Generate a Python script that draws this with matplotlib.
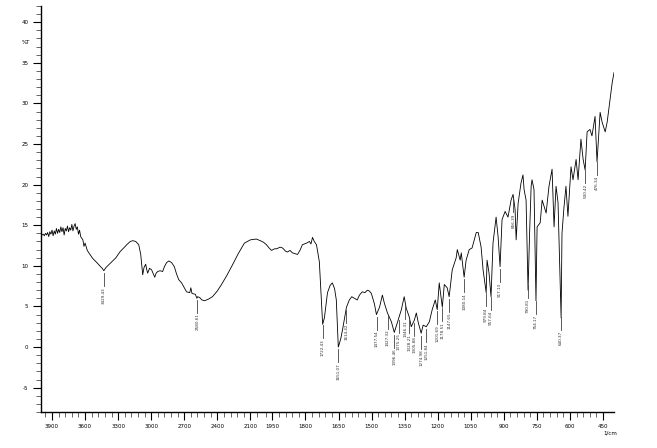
import numpy as np
import matplotlib
matplotlib.use('Agg')
import matplotlib.pyplot as plt
from matplotlib.ticker import FixedLocator

# IR spectrum, %T vs wavenumber
wavenumber = [4000, 3990, 3980, 3970, 3960, 3950, 3940, 3930, 3920, 3910,
              3900, 3890, 3880, 3870, 3860, 3850, 3840, 3830, 3820, 3810,
              3800, 3790, 3780, 3770, 3760, 3750, 3740, 3730, 3720, 3710,
              3700, 3690, 3680, 3670, 3660, 3650, 3640, 3620, 3610, 3600,
              3580, 3556, 3530, 3493, 3460, 3445, 3430, 3410, 3357, 3320,
              3285, 3250, 3222, 3190, 3167, 3140, 3113, 3095, 3077, 3065,
              3050, 3040, 3032, 3015, 2996, 2980, 2968, 2955, 2941, 2920,
              2896, 2880, 2860, 2840, 2815, 2790, 2770, 2750, 2724, 2700,
              2679, 2650, 2640, 2630, 2600, 2585, 2579, 2560, 2540, 2516,
              2480, 2444, 2400, 2362, 2310, 2263, 2210, 2154, 2100, 2046,
              2010, 1990, 1977, 1965, 1954, 1940, 1931, 1915, 1904, 1890,
              1882, 1870, 1859, 1848, 1836, 1825, 1814, 1795, 1782, 1775,
              1768, 1760, 1750, 1737, 1730, 1722, 1714, 1700, 1688, 1678,
              1668, 1660, 1651, 1640, 1632, 1614, 1601, 1590, 1578, 1565,
              1555, 1542, 1530, 1519, 1510, 1501, 1487, 1478, 1464, 1451,
              1442, 1428, 1410, 1397, 1383, 1365, 1352, 1343, 1329, 1320,
              1306, 1297, 1288, 1275, 1266, 1252, 1238, 1225, 1211, 1202,
              1193, 1179, 1170, 1157, 1148, 1134, 1116, 1111, 1098, 1093,
              1080, 1071, 1057, 1044, 1025, 1016, 1003, 994, 980, 976,
              967, 958, 949, 935, 926, 917, 908, 894, 881, 867,
              858, 849, 844, 835, 822, 813, 808, 799, 790, 783,
              776, 772, 763, 754, 749, 735, 726, 708, 695, 681,
              672, 663, 654, 640, 636, 627, 618, 609, 595, 586,
              572, 563, 550, 540, 531, 522, 509, 500, 486, 477,
              463, 454, 440, 431, 422, 408, 400]
transmittance = [13.9, 13.8, 13.9, 13.7, 14.0, 13.8, 14.1, 13.6, 14.2, 13.9,
                 14.4, 13.7, 14.3, 13.9, 14.6, 14.0, 14.5, 14.1, 14.8, 14.2,
                 14.7, 13.8, 14.6, 14.3, 14.9, 14.2, 14.7, 14.4, 15.1, 14.3,
                 14.9, 15.2, 14.5, 14.8, 13.9, 14.4, 13.6, 13.2, 12.4, 12.8,
                 11.9, 11.4, 10.9, 10.4, 9.9, 9.7, 9.4, 9.8, 10.5, 11.0,
                 11.7, 12.2, 12.6, 13.0, 13.1, 13.0, 12.6, 11.4, 8.9, 9.8,
                 10.2, 9.5, 9.1, 9.7, 9.5, 9.0, 8.6, 9.1, 9.3, 9.4,
                 9.3, 9.9, 10.4, 10.6, 10.4, 9.9, 9.0, 8.3, 7.9, 7.3,
                 6.8, 6.7, 7.3, 6.6, 6.5, 6.0, 6.2, 6.1, 5.8, 5.7,
                 5.9, 6.2, 6.9, 7.7, 8.9, 10.1, 11.5, 12.8, 13.2, 13.3,
                 13.1, 12.9, 12.6, 12.2, 11.9, 12.1, 12.1, 12.3, 12.2, 11.8,
                 11.7, 11.9, 11.6, 11.5, 11.4, 11.9, 12.6, 12.8, 13.0, 12.7,
                 13.5, 13.0, 12.6, 10.5, 7.0, 2.8, 3.6, 6.7, 7.6, 7.9,
                 7.2, 5.8, 0.0, 1.0, 2.1, 4.9, 5.8, 6.2, 6.0, 5.8,
                 6.4, 6.8, 6.7, 7.0, 6.9, 6.6, 5.3, 4.0, 4.9, 6.4,
                 5.4, 4.2, 3.1, 1.8, 3.0, 4.6, 6.2, 4.8, 3.7, 2.5,
                 3.3, 4.2, 3.0, 1.7, 2.7, 2.5, 3.1, 4.6, 5.8, 4.6,
                 7.9, 4.9, 7.7, 7.3, 6.2, 9.5, 11.0, 12.0, 10.7, 11.6,
                 8.6, 10.7, 12.0, 12.2, 14.1, 14.1, 12.3, 9.5, 6.7, 10.7,
                 9.1, 6.2, 12.8, 16.0, 13.6, 9.9, 15.7, 16.7, 16.0, 18.1,
                 18.8, 17.0, 13.2, 17.7, 20.2, 21.2, 19.4, 18.1, 7.0, 14.0,
                 19.8, 20.6, 19.4, 5.7, 14.8, 15.3, 18.1, 16.5, 19.8, 21.9,
                 14.8, 19.8, 17.8, 3.6, 14.0, 17.2, 19.8, 16.1, 22.2, 20.6,
                 23.1, 20.6, 25.6, 23.1, 21.8, 26.5, 26.8, 26.0, 28.4, 22.8,
                 28.9, 27.7, 26.5, 27.7, 29.6, 32.6, 33.8]

# labelled peaks
peak_wn = [3429.4, 2580.6, 1722.4, 1651.1, 1614.4, 1477.5, 1427.3, 1396.5,
           1375.3, 1346.4, 1328.2, 1305.9, 1275.0, 1251.8, 1201.7, 1178.5,
           1147.7, 1080.1, 979.8, 957.6, 917.1, 856.4, 790.8, 754.2,
           640.4, 530.4, 476.3]
peak_labels = ['3429.43', '2580.61', '1722.43', '1651.07', '1614.42', '1477.54',
               '1427.32', '1396.46', '1375.25', '1346.31', '1328.21', '1305.88',
               '1274.98', '1251.84', '1201.69', '1178.51', '1147.65', '1080.14',
               '979.84', '957.64', '917.13', '856.39', '790.81', '754.17',
               '640.37', '530.42', '476.34']

major_x = [3900, 3600, 3300, 3000, 2700, 2400, 2100, 1950, 1800, 1650,
           1500, 1350, 1200, 1050, 900, 750, 600, 450]
major_y = [-5, 0, 5, 10, 15, 20, 25, 30, 35, 40]


# x axis is compressed by 2 above 2000 1/cm
def fwd(x):
    x = np.asarray(x, float)
    return np.where(x > 2000, 2000 + (x - 2000) / 2, x)


def inv(t):
    t = np.asarray(t, float)
    return np.where(t > 2000, 2000 + (t - 2000) * 2, t)


fig = plt.figure(figsize=(6.57, 4.48), dpi=100)
ax = fig.add_axes([41 / 657, 1 - 412 / 448, (614 - 41) / 657, (412 - 6) / 448])
ax.set_xscale('function', functions=(fwd, inv))
ax.set_xlim(4000, 400)
ax.set_ylim(-8, 42)

ax.plot(wavenumber, transmittance, color='black', lw=0.6)

# peak markers
wn_inc = np.array(wavenumber)[::-1]
t_inc = np.array(transmittance)[::-1]
for w, lab in zip(peak_wn, peak_labels):
    t0 = np.interp(w, wn_inc, t_inc)
    ax.plot([w, w], [t0 - 0.3, t0 - 1.9], color='0.25', lw=0.6)
    ax.text(w, t0 - 2.0, lab, rotation=90, ha='center', va='top',
            fontsize=3, color='0.2')

minor_x = [w for w in range(2040, 4000, 60) if w not in major_x]
minor_x += [w for w in range(480, 2000, 30) if w not in major_x]
ax.xaxis.set_major_locator(FixedLocator(major_x))
ax.xaxis.set_minor_locator(FixedLocator(minor_x))
ax.set_xticklabels([str(v) for v in major_x])
ax.yaxis.set_major_locator(FixedLocator(major_y))
ax.yaxis.set_minor_locator(FixedLocator([v for v in range(-8, 43) if v not in major_y]))
ax.set_yticklabels([str(v) for v in major_y])

ax.tick_params(which='major', length=6, width=0.8, labelsize=4, pad=3, color='black')
ax.tick_params(which='minor', length=3.5, width=0.6, color='0.3')
for s in ['top', 'right']:
    ax.spines[s].set_visible(False)
for s in ['left', 'bottom']:
    ax.spines[s].set_linewidth(1.0)

ax.annotate('%T', xy=(0, 37.5), xycoords=('axes fraction', 'data'),
            xytext=(-8, 0), textcoords='offset points', ha='right', va='center',
            fontsize=4)
ax.annotate('1/cm', xy=(450, 0), xycoords=('data', 'axes fraction'),
            xytext=(0, -15), textcoords='offset points', ha='left', va='center',
            fontsize=4)

fig.savefig('out.png', dpi=100)
